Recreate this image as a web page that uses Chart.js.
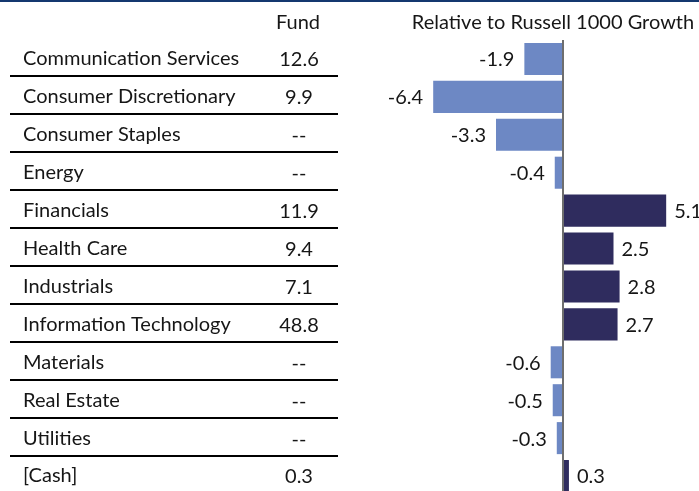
<!DOCTYPE html>
<html>
<head>
<meta charset="utf-8">
<script src="https://cdn.jsdelivr.net/npm/chart.js@4.4.1/dist/chart.umd.min.js"></script>
<style>
  html, body { margin: 0; padding: 0; background: #ffffff; overflow: hidden; width: 699px; height: 491px; }
  #wrap { position: absolute; left: 0; top: 0; width: 699px; height: 495px; }
  canvas { display: block; }
</style>
</head>
<body>
<div id="wrap"><canvas id="c" width="699" height="495"></canvas></div>
<script>
const categories = [
  'Communication Services', 'Consumer Discretionary', 'Consumer Staples', 'Energy',
  'Financials', 'Health Care', 'Industrials', 'Information Technology',
  'Materials', 'Real Estate', 'Utilities', '[Cash]'
];
const fundValues = ['12.6', '9.9', '--', '--', '11.9', '9.4', '7.1', '48.8', '--', '--', '--', '0.3'];
const relativeValues = [-1.9, -6.4, -3.3, -0.4, 5.1, 2.5, 2.8, 2.7, -0.6, -0.5, -0.3, 0.3];
const fundHeader = 'Fund';
const relativeHeader = 'Relative to Russell 1000 Growth';

const FONT = 'Lato, "Open Sans", sans-serif';
const FS = 20;
const TEXT = '#161616';
const NEG = '#6d88c4';
const POS = '#2f2c5e';

const tablePlugin = {
  id: 'tablePlugin',
  afterDatasetsDraw(chart) {
    const ctx = chart.ctx;
    const ys = chart.scales.y;
    const xs = chart.scales.x;
    ctx.save();
    // top rule
    ctx.fillStyle = '#14386f';
    ctx.fillRect(0, 0, chart.width, 2);
    // headers
    ctx.fillStyle = TEXT;
    ctx.font = FS + 'px ' + FONT;
    ctx.textBaseline = 'middle';
    ctx.textAlign = 'center';
    ctx.fillText(fundHeader, 298, 23);
    ctx.fillText(relativeHeader, 553, 23);
    // separators
    ctx.strokeStyle = '#000000';
    ctx.lineWidth = 2;
    for (let i = 0; i < categories.length - 1; i++) {
      const y = Math.round((ys.getPixelForValue(i) + ys.getPixelForValue(i + 1)) / 2 - 1.5);
      ctx.beginPath();
      ctx.moveTo(10, y);
      ctx.lineTo(338, y);
      ctx.stroke();
    }
    // fund values
    ctx.textAlign = 'center';
    fundValues.forEach((v, i) => {
      ctx.fillText(v, 299, ys.getPixelForValue(i) + 1);
    });
    // zero axis
    const x0 = Math.round(xs.getPixelForValue(0));
    ctx.strokeStyle = '#6e6e6e';
    ctx.lineWidth = 2;
    ctx.beginPath();
    ctx.moveTo(x0, 40);
    ctx.lineTo(x0, chart.height);
    ctx.stroke();
    // value labels
    const meta = chart.getDatasetMeta(0);
    meta.data.forEach((bar, i) => {
      const v = relativeValues[i];
      const y = bar.y + 1;
      if (v < 0) {
        ctx.textAlign = 'right';
        ctx.fillText(v.toFixed(1), bar.x - 10, y);
      } else {
        ctx.textAlign = 'left';
        ctx.fillText(v.toFixed(1), bar.x + 8, y);
      }
    });
    ctx.restore();
  }
};

new Chart(document.getElementById('c'), {
  type: 'bar',
  data: {
    labels: categories,
    datasets: [{
      data: relativeValues,
      backgroundColor: relativeValues.map(v => v < 0 ? NEG : POS),
      borderWidth: 0,
      categoryPercentage: 1,
      barPercentage: 0.845
    }]
  },
  options: {
    indexAxis: 'y',
    responsive: false,
    animation: false,
    devicePixelRatio: 1,
    layout: { padding: { left: 23, top: 40, right: 0, bottom: 0 } },
    plugins: { legend: { display: false }, tooltip: { enabled: false }, title: { display: false } },
    scales: {
      x: { display: false, min: -11, max: 6.72 },
      y: {
        type: 'category',
        grid: { display: false },
        border: { display: false },
        ticks: { crossAlign: 'far', color: TEXT, font: { family: FONT, size: FS }, padding: 0 },
        afterFit(scale) { scale.width = 317; scale.paddingTop = 0; scale.paddingBottom = 0; }
      }
    }
  },
  plugins: [tablePlugin]
});
</script>
</body>
</html>
